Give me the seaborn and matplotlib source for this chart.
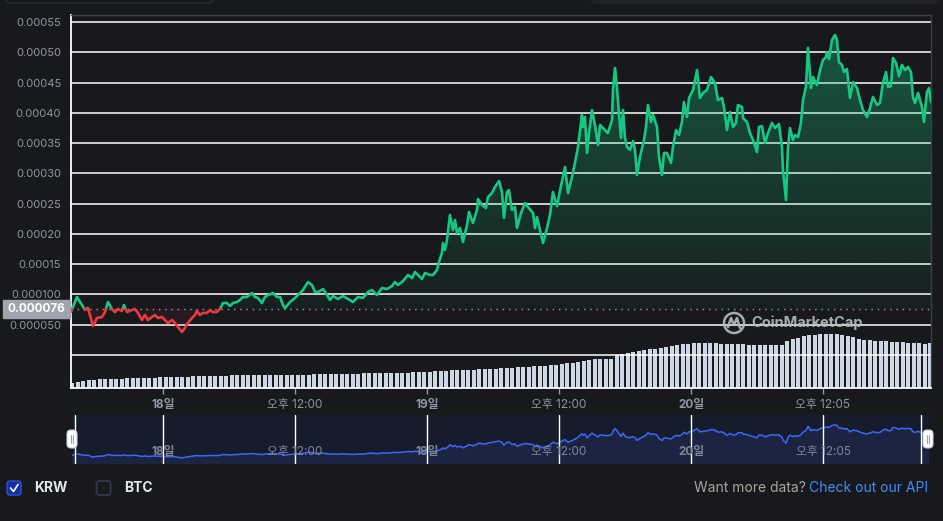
import numpy as np
import matplotlib
matplotlib.use('Agg')
import matplotlib.pyplot as plt
import matplotlib.transforms as mtransforms
from matplotlib.path import Path
from matplotlib.patches import Rectangle, FancyBboxPatch, Circle
from matplotlib.colors import LinearSegmentedColormap
import seaborn as sns

# hours counted from 17일 00:00
hours = [15.64, 16.18, 16.64, 16.91, 17.18, 17.64, 18.0, 18.45, 18.73, 19.0,
         19.36, 19.64, 19.91, 20.27, 20.45, 20.73, 21.18, 21.45, 21.73, 22.09,
         22.36, 22.64, 23.0, 23.27, 23.55, 23.91, 24.18, 24.45, 24.82, 25.09,
         25.36, 25.73, 26.0, 26.27, 26.64, 26.91, 27.09, 27.36, 27.64, 28.0,
         28.27, 28.55, 28.91, 29.18, 29.45, 29.82, 30.09, 30.36, 30.73, 31.0,
         31.27, 31.64, 32.09, 32.36, 32.64, 33.0, 33.27, 33.55, 34.0, 34.36,
         34.64, 34.91, 35.09, 35.55, 36.0, 36.45, 36.73, 37.18, 37.55, 37.82,
         38.09, 38.55, 38.91, 39.18, 39.45, 39.91, 40.36, 40.82, 41.27, 41.73,
         42.18, 42.64, 43.0, 43.45, 43.91, 44.36, 44.82, 45.09, 45.36, 45.82,
         46.27, 46.64, 46.91, 47.18, 47.55, 47.82, 48.27, 48.55, 48.91, 49.09,
         49.36, 49.45, 49.64, 49.82, 50.09, 50.36, 50.55, 50.73, 51.0, 51.27,
         51.64, 51.82, 52.18, 52.55, 52.64, 53.0, 53.36, 53.55, 53.91, 54.18,
         54.55, 54.82, 55.0, 55.27, 55.45, 55.73, 56.0, 56.18, 56.55, 56.91,
         57.18, 57.64, 57.82, 58.0, 58.27, 58.55, 58.91, 59.18, 59.45, 59.82,
         60.18, 60.55, 60.82, 61.18, 61.45, 61.73, 62.09, 62.18, 62.36, 62.55,
         62.73, 63.0, 63.27, 63.55, 63.73, 64.18, 64.45, 64.82, 64.91, 65.09,
         65.27, 65.45, 65.64, 65.82, 66.0, 66.18, 66.45, 66.73, 66.91, 67.09,
         67.36, 67.73, 67.91, 68.09, 68.36, 68.55, 68.91, 69.09, 69.36, 69.55,
         69.82, 70.18, 70.36, 70.64, 70.91, 71.18, 71.36, 71.64, 71.82, 72.18,
         72.55, 72.82, 73.09, 73.45, 73.82, 74.18, 74.45, 74.82, 75.0, 75.27,
         75.55, 75.82, 76.09, 76.27, 76.64, 76.73, 77.09, 77.36, 77.64, 78.0,
         78.18, 78.45, 78.73, 79.0, 79.36, 79.64, 80.0, 80.27, 80.36, 80.64,
         80.82, 81.0, 81.27, 81.45, 81.73, 82.0, 82.18, 82.45, 82.64, 82.91,
         83.09, 83.45, 83.73, 84.0, 84.27, 84.36, 84.55, 84.82, 85.09, 85.27,
         85.45, 85.73, 85.91, 86.18, 86.45, 86.73, 87.09, 87.36, 87.64, 88.0,
         88.27, 88.55, 88.91, 89.18, 89.45, 89.73, 89.91, 90.18, 90.36, 90.64,
         90.91, 91.18, 91.45, 91.73, 92.0, 92.18, 92.36, 92.64, 93.0, 93.18,
         93.45, 93.64, 93.82]

# price in units of 1e-5 KRW
price_e5 = [7.15, 9.58, 8.26, 7.43, 7.76, 4.79, 6.11, 6.28, 7.10, 8.76,
            7.60, 7.10, 7.60, 7.27, 8.26, 7.10, 7.43, 7.60, 6.94, 5.78,
            6.61, 5.78, 6.28, 6.61, 6.11, 6.28, 5.78, 5.29, 5.78, 5.29,
            4.63, 3.80, 4.46, 5.29, 6.11, 6.61, 7.27, 6.61, 6.94, 6.94,
            7.43, 7.10, 7.10, 7.60, 8.59, 8.59, 8.09, 8.59, 8.76, 9.09,
            9.58, 9.58, 10.24, 9.58, 9.42, 8.59, 9.58, 9.91, 10.24, 9.58,
            9.58, 8.26, 7.76, 8.76, 9.42, 10.24, 10.74, 12.06, 11.56, 10.41,
            10.41, 10.90, 9.91, 9.09, 9.75, 9.25, 9.75, 9.25, 8.76, 9.58,
            9.42, 10.41, 10.74, 9.91, 11.07, 10.90, 11.40, 12.06, 11.56, 12.22,
            13.22, 12.72, 13.71, 13.22, 12.56, 13.55, 13.22, 13.22, 14.04, 15.36,
            16.85, 18.50, 17.35, 19.00, 23.13, 20.65, 22.30, 20.15, 20.98, 18.67,
            21.48, 23.62, 21.81, 23.95, 25.77, 24.78, 24.28, 26.10, 26.76, 27.75,
            28.74, 26.93, 22.63, 26.93, 27.26, 23.95, 24.45, 20.98, 23.46, 25.11,
            24.45, 23.46, 20.98, 22.80, 20.65, 18.50, 20.98, 23.13, 26.93, 24.61,
            27.92, 31.06, 26.76, 29.41, 31.72, 34.36, 39.65, 37.67, 39.32, 33.37,
            36.67, 40.47, 38.00, 34.69, 38.00, 37.17, 36.67, 38.82, 43.78, 47.41,
            44.27, 39.98, 35.85, 40.47, 35.85, 34.36, 33.87, 35.35, 33.87, 29.74,
            32.71, 35.52, 37.67, 41.30, 38.49, 39.65, 37.67, 32.71, 29.74, 33.37,
            33.37, 31.72, 34.36, 37.17, 36.34, 38.49, 41.80, 39.32, 42.46, 43.78,
            47.08, 42.46, 43.28, 43.78, 45.93, 44.93, 42.13, 42.46, 40.97, 37.17,
            40.14, 37.67, 38.33, 41.30, 40.97, 39.15, 38.49, 36.67, 35.52, 33.54,
            37.67, 37.83, 35.02, 36.67, 38.33, 37.50, 38.16, 34.36, 30.56, 25.61,
            34.36, 37.50, 35.52, 36.34, 36.01, 38.33, 42.13, 44.27, 50.72, 44.11,
            45.93, 44.60, 47.08, 48.73, 49.23, 50.06, 48.90, 52.04, 52.86, 52.04,
            48.40, 47.91, 46.75, 47.25, 42.46, 45.10, 44.11, 42.13, 40.47, 39.32,
            40.80, 42.62, 41.30, 41.63, 44.93, 46.75, 44.27, 44.44, 49.06, 48.24,
            46.09, 47.91, 47.08, 47.58, 46.75, 42.62, 41.63, 43.28, 40.97, 38.49,
            43.45, 44.11, 41.80]

ref_price = 0.000076

# volume bars, one every 30 min starting 17일 15:45 (arbitrary units)
volume = [5, 6, 7, 8, 8, 9, 9, 9, 9, 9,
          10, 10, 10, 10, 10, 10, 11, 11, 11, 11,
          11, 11, 12, 12, 12, 12, 12, 12, 12, 13,
          13, 13, 13, 13, 13, 13, 13, 13, 13, 13,
          13, 13, 13, 13, 14, 14, 14, 14, 14, 14,
          14, 14, 14, 15, 15, 15, 15, 15, 15, 15,
          15, 15, 16, 16, 16, 16, 17, 17, 17, 18,
          18, 18, 18, 18, 19, 19, 19, 19, 20, 20,
          20, 21, 21, 21, 22, 22, 22, 23, 23, 24,
          25, 25, 26, 27, 28, 29, 29, 29, 29, 33,
          34, 35, 36, 37, 38, 39, 39, 40, 41, 42,
          43, 44, 44, 45, 45, 45, 45, 45, 44, 44,
          44, 44, 44, 43, 43, 43, 43, 43, 43, 43,
          47, 49, 50, 52, 53, 53, 54, 54, 54, 54,
          53, 52, 51, 49, 48, 48, 47, 47, 47, 46,
          46, 46, 45, 45, 45, 44, 45]
vol_hours = 15.75 + 0.5 * np.arange(len(volume))

tick_hours = [24, 36, 48, 60, 72, 84]
tick_labels = ['18일', '오후 12:00', '19일', '오후 12:00', '20일', '오후 12:05']
tick_bold = [True, False, True, False, True, False]

y_ticks = [0, 0.00005, 0.0001, 0.00015, 0.0002, 0.00025, 0.0003,
           0.00035, 0.0004, 0.00045, 0.0005, 0.00055]
y_labels = ['', '0.000050', '0.000100', '0.00015', '0.00020', '0.00025',
            '0.00030', '0.00035', '0.00040', '0.00045', '0.00050', '0.00055']

BG = '#18191c'
GREEN = '#16c784'
RED = '#ea3943'
GRAY = '#8f96a3'
W, H = 943, 521

sns.set_theme(style='dark', rc={'figure.facecolor': BG, 'axes.facecolor': BG})
plt.rcParams['font.family'] = ['Inter', 'Noto Sans CJK KR', 'DejaVu Sans']

t = np.array(hours)
p = np.array(price_e5) * 1e-5


def rect(x0, y0, x1, y1):
    return [x0 / W, 1 - y1 / H, (x1 - x0) / W, (y1 - y0) / H]


def split_at(t, p, ref):
    tt, pp = [t[0]], [p[0]]
    for i in range(1, len(t)):
        if (p[i - 1] - ref) * (p[i] - ref) < 0:
            f = (ref - p[i - 1]) / (p[i] - p[i - 1])
            tt.append(t[i - 1] + f * (t[i] - t[i - 1]))
            pp.append(ref)
        tt.append(t[i])
        pp.append(p[i])
    return np.array(tt), np.array(pp)


fig = plt.figure(figsize=(W / 100, H / 100), dpi=100)
pix = mtransforms.IdentityTransform()

# volume axis, behind the price axis
ax_vol = fig.add_axes(rect(71, 15, 931, 388))
ax_vol.bar(vol_hours, volume, width=0.5 * 0.8, color='#cfd6e6', linewidth=0)
ax_vol.set_xlim(t[0], t[-1])
ax_vol.set_ylim(0, max(volume) * 6.9)
ax_vol.axis('off')

ax = fig.add_axes(rect(71, 15, 931, 388))
ax.patch.set_alpha(0)
xlim = (t[0], t[-1])
ylim = (-0.0000545, 0.0005617)

# gradient fill above reference price
fill = ax.fill_between(t, p, ref_price, where=p >= ref_price, interpolate=True,
                       color='none', linewidth=0)
clip = Path.make_compound_path(*fill.get_paths())
cmap = LinearSegmentedColormap.from_list(
    'g', [(22 / 255, 199 / 255, 132 / 255, 0.04), (22 / 255, 199 / 255, 132 / 255, 0.36)])
img = ax.imshow(np.linspace(0, 1, 256).reshape(-1, 1), cmap=cmap, origin='lower',
                aspect='auto', extent=[t[0], t[-1], ref_price, p.max()], zorder=1)
img.set_clip_path(clip, ax.transData)
ax.fill_between(t, p, ref_price, where=p <= ref_price, interpolate=True,
                color=RED, alpha=0.08, linewidth=0, zorder=1)

# coloured price line
tt, pp = split_at(t, p, ref_price)
ax.plot(tt, np.where(pp >= ref_price, pp, np.nan), color=GREEN, lw=1.9, zorder=4)
ax.plot(tt, np.where(pp <= ref_price, pp, np.nan), color=RED, lw=1.9, zorder=4)
ax.axhline(ref_price, color='#9a9ea6', lw=1, ls=(0, (1, 3.5)), zorder=3)

ax.set_xlim(*xlim)
ax.set_ylim(*ylim)
ax.set_yticks(y_ticks)
ax.set_yticklabels(y_labels)
ax.set_xticks(tick_hours)
ax.set_xticklabels(tick_labels)
for lab, b in zip(ax.get_xticklabels(), tick_bold):
    lab.set_fontweight('bold' if b else 'normal')
ax.tick_params(axis='y', length=0, pad=7, labelsize=8, labelcolor=GRAY)
ax.tick_params(axis='x', length=4, width=1, color=GRAY, pad=4, labelsize=8.5,
               labelcolor=GRAY, bottom=True)
ax.yaxis.grid(True, color='white', lw=1.2, alpha=0.92, zorder=2)
ax.xaxis.grid(False)
ax.set_axisbelow(True)
for s in ['top', 'right']:
    ax.spines[s].set_visible(True)
    ax.spines[s].set_color('#3a3d44')
    ax.spines[s].set_linewidth(1)
for s in ['left', 'bottom']:
    ax.spines[s].set_visible(True)
    ax.spines[s].set_color('white')
    ax.spines[s].set_linewidth(1.3)

# current price box on the y axis
bt = mtransforms.blended_transform_factory(fig.transFigure, ax.transData)
ax.add_patch(Rectangle((3 / W, ref_price - 0.0000142), 67 / W, 0.0000284,
                       transform=bt, clip_on=False, color='#a0a4ae', zorder=6))
ax.text(65 / W, ref_price, '0.000076', transform=bt, ha='right', va='center',
        fontsize=8.5, fontweight='bold', color='white', zorder=7, clip_on=False)

# watermark
fig.patches.append(Circle((734, H - 323), 10, transform=pix, fill=False,
                          edgecolor='#b9bcc3', lw=1.8, alpha=0.9))
fig.lines.append(plt.Line2D([728, 731, 734, 737, 740], [H - 327, H - 318, H - 325, H - 318, H - 328],
                            transform=pix, color='#b9bcc3', lw=1.8, alpha=0.9))
fig.text(751 / W, 1 - 323 / H, 'CoinMarketCap', fontsize=10.5, fontweight='bold',
         color='#b9bcc3', alpha=0.9, va='center', ha='left')

# navigator
ax_nav = fig.add_axes(rect(72, 415, 929, 464))
ax_nav.set_facecolor('#171c2c')
ax_nav.fill_between(t, p, -1, color='#1b2441', linewidth=0)
sns.lineplot(x=t, y=p, ax=ax_nav, color='#3d68f5', lw=1.1)
ax_nav.set_xlim(24 + (72 - 163) / 11, 24 + (929 - 163) / 11)
ax_nav.set_ylim(-0.000054, 0.000676)
for h, lab, b in zip(tick_hours, tick_labels, tick_bold):
    ax_nav.axvline(h, color='white', lw=1)
    ax_nav.text(h, 0.24, lab, transform=ax_nav.get_xaxis_transform(), ha='center',
                va='center', fontsize=8.5, color='#7f8796',
                fontweight='bold' if b else 'normal')
ax_nav.axvline(24 + (75 - 163) / 11, color='white', lw=1)
ax_nav.axvline(24 + (921 - 163) / 11, color='white', lw=1)
ax_nav.set_xticks([])
ax_nav.set_yticks([])
ax_nav.set_xlabel('')
ax_nav.set_ylabel('')
for s in ax_nav.spines.values():
    s.set_visible(False)

# range handles
for hx in [72, 928]:
    fig.patches.append(FancyBboxPatch((hx - 5, H - 448), 10, 18, transform=pix,
                                      boxstyle='round,pad=0,rounding_size=4',
                                      facecolor='white', edgecolor='#c9ccd3', lw=0.8))
    for dx in (-1.2, 1.2):
        fig.lines.append(plt.Line2D([hx + dx, hx + dx], [H - 443, H - 435], transform=pix,
                                    color='#9aa0ab', lw=0.8))

# legend checkboxes
fig.patches.append(FancyBboxPatch((7, H - 495), 14, 14, transform=pix,
                                  boxstyle='round,pad=0,rounding_size=2.5',
                                  facecolor='#0f2fae', edgecolor='#3550c8', lw=1))
fig.lines.append(plt.Line2D([10.5, 13.5, 18], [H - 488, H - 491.5, H - 484.5], transform=pix,
                            color='white', lw=1.2))
fig.text(34 / W, 1 - 488 / H, 'KRW', fontsize=10, fontweight='bold', color='#e3e6ec',
         va='center', ha='left')
fig.patches.append(FancyBboxPatch((96.5, H - 495), 14, 14, transform=pix,
                                  boxstyle='round,pad=0,rounding_size=2.5',
                                  facecolor=BG, edgecolor='#34384a', lw=1.2))
fig.text(124 / W, 1 - 488 / H, 'BTC', fontsize=10, fontweight='bold', color='#e3e6ec',
         va='center', ha='left')

fig.text(928 / W, 1 - 488 / H, 'Check out our API', fontsize=10, color='#3d8bfd',
         va='center', ha='right')
fig.text(806 / W, 1 - 488 / H, 'Want more data?', fontsize=10, color='#a8a49e',
         va='center', ha='right')

# partial panels at top edge
fig.patches.append(FancyBboxPatch((5, H - 3), 209, 20, transform=pix,
                                  boxstyle='round,pad=0,rounding_size=6',
                                  facecolor=BG, edgecolor='#2c2f35', lw=1))
fig.patches.append(FancyBboxPatch((590, H - 3), 350, 20, transform=pix,
                                  boxstyle='round,pad=0,rounding_size=6',
                                  facecolor='#202226', edgecolor='#202226', lw=1))

fig.savefig('out.png', dpi=100, facecolor=BG)
